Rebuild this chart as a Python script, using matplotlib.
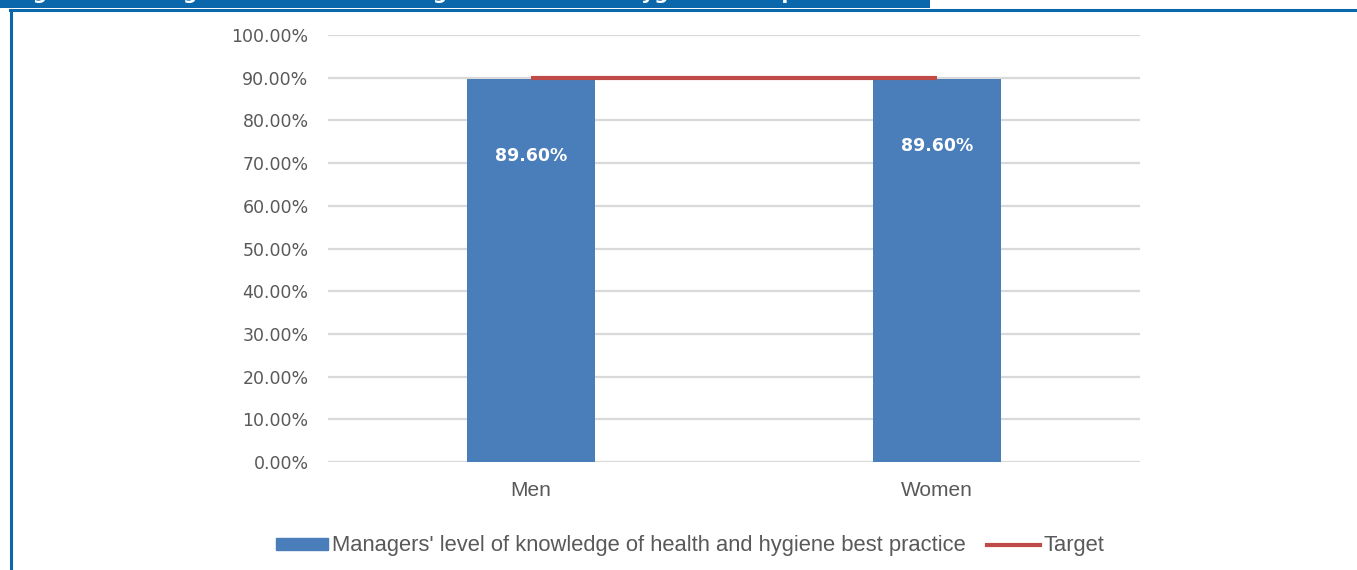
import matplotlib
matplotlib.use("Agg")
import matplotlib.pyplot as plt
from matplotlib.patches import Rectangle
from matplotlib.lines import Line2D
from matplotlib.ticker import FuncFormatter

# Data
categories = ["Men", "Women"]
knowledge = [0.896, 0.896]
target = [0.90, 0.90]
y_ticks = [0.0, 0.1, 0.2, 0.3, 0.4, 0.5, 0.6, 0.7, 0.8, 0.9, 1.0]
series_label = "Managers' level of knowledge of health and hygiene best practice"
target_label = "Target"
title = "Figure 1: Managers' level of knowledge of health and hygiene best practice"

BAR = "#4a7ebb"
RED = "#be4b48"
GRID = "#d9d9d9"
TXT = "#595959"
FRAME = "#0a67ab"
NARROW = ["Liberation Sans Narrow", "Liberation Sans", "DejaVu Sans"]

W, H = 1357, 570
fig = plt.figure(figsize=(W / 100, H / 100), dpi=100)
fig.patch.set_facecolor("white")

# Page frame: title band (its caption runs off the top of the page), top rule and left rule
fig.add_artist(Rectangle((0, 1 - 8 / H), 930 / W, 8 / H, transform=fig.transFigure,
                         facecolor=FRAME, edgecolor="none"))
fig.add_artist(Line2D([10 / W, 1], [1 - 10 / H, 1 - 10 / H], transform=fig.transFigure,
                      color=FRAME, lw=2.2))
fig.add_artist(Line2D([11 / W, 11 / W], [0, 1 - 10 / H], transform=fig.transFigure,
                      color=FRAME, lw=2.2))
fig.text(12 / W, 1 + 1.5 / H, title, color="white", fontsize=14.5, fontweight="bold",
         va="baseline", ha="left", family="DejaVu Sans")

ax = fig.add_axes([328 / W, 1 - 462 / H, (1140 - 328) / W, (462 - 35) / H])
x = list(range(len(categories)))
bars = ax.bar(x, knowledge, width=0.315, color=BAR, zorder=2)
ax.plot(x, target, color=RED, lw=3, zorder=3, solid_capstyle="butt")

ax.set_xlim(-0.5, len(categories) - 0.5)
ax.set_ylim(0, 1.0)
ax.set_yticks(y_ticks)
ax.yaxis.set_major_formatter(FuncFormatter(lambda v, p: f"{v * 100:.2f}%"))
ax.set_xticks(x)
ax.set_xticklabels(categories, fontsize=15, color=TXT, family=NARROW)
ax.tick_params(axis="y", length=0, pad=14, labelsize=12.5, labelcolor=TXT)
ax.tick_params(axis="x", length=0, pad=14)
for s in ax.spines.values():
    s.set_visible(False)
ax.grid(axis="y", color=GRID, lw=1.6, zorder=0)
ax.set_axisbelow(True)

# Value labels inside the bars
label_offsets = [-55, -48]
for rect, val, off in zip(bars, knowledge, label_offsets):
    ax.annotate(f"{val * 100:.2f}%", (rect.get_x() + rect.get_width() / 2, val),
                xytext=(0, off), textcoords="offset points", ha="center", va="center",
                color="white", fontsize=12.5, fontweight="bold", zorder=4)

handles = [Rectangle((0, 0), 1, 1, color=BAR), Line2D([0], [0], color=RED, lw=3)]
fig.legend(handles, [series_label, target_label], loc="center",
           bbox_to_anchor=(690 / W, 1 - 546 / H), ncol=2, frameon=False,
           prop={"family": NARROW, "size": 15.8}, labelcolor=TXT,
           handlelength=2.4, handleheight=0.45, handletextpad=0.15, columnspacing=1.0)

fig.savefig("out.png", dpi=100, facecolor="white")
